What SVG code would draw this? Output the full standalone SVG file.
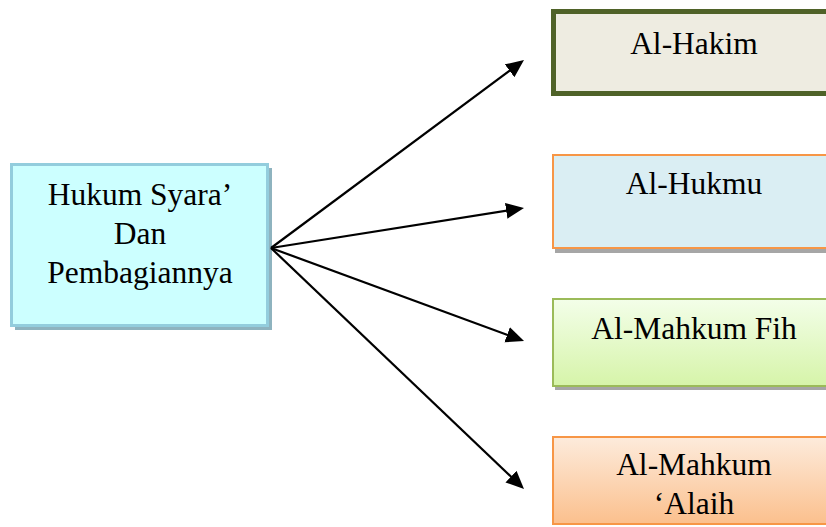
<svg xmlns="http://www.w3.org/2000/svg" width="826" height="527" viewBox="0 0 826 527">
<defs>
<style>
text{font-family:"Liberation Serif","Times New Roman",serif;font-size:31.5px;fill:#000;text-anchor:middle}
.conn line{stroke:#000;stroke-width:2.2;fill:none}
.shadow{fill:#A6A6A6}
</style>
<linearGradient id="gGreen" x1="0" y1="0" x2="0" y2="1">
<stop offset="0" stop-color="#F3FEE9"/>
<stop offset="1" stop-color="#D6F4A9"/>
</linearGradient>
<linearGradient id="gOrange" x1="0" y1="0" x2="0" y2="1">
<stop offset="0" stop-color="#FDEBDC"/>
<stop offset="1" stop-color="#FBC08D"/>
</linearGradient>
<marker id="arr" markerUnits="userSpaceOnUse" markerWidth="19" markerHeight="17" refX="9" refY="8" orient="auto" viewBox="0 0 19 17">
<path d="M0,0 L18,8 L0,16 z" fill="#000"/>
</marker>
</defs>
<rect width="826" height="527" fill="#fff"/>
<g id="node-hukum">
<rect x="15" y="168" width="257" height="162" fill="#8EB3BF"/>
<rect x="11.5" y="164.5" width="256" height="161" fill="#CCFFFF" stroke="#93CDDD" stroke-width="3"/>
<text x="140" y="205">Hukum Syara’</text>
<text x="140" y="244">Dan</text>
<text x="140" y="283">Pembagiannya</text>
</g>
<g id="node-hakim">
<rect x="553.5" y="11.5" width="290" height="82" fill="#EEECE1" stroke="#4F6228" stroke-width="5"/>
<text x="694" y="54">Al-Hakim</text>
</g>
<g id="node-hukmu">
<rect x="555" y="157" width="290" height="96" class="shadow"/>
<rect x="553" y="155" width="290" height="93" fill="#DAEEF3" stroke="#F79646" stroke-width="2"/>
<text x="694" y="194">Al-Hukmu</text>
</g>
<g id="node-fih">
<rect x="555" y="301" width="290" height="89" class="shadow"/>
<rect x="553" y="299" width="290" height="87" fill="url(#gGreen)" stroke="#9BBB59" stroke-width="2"/>
<text x="694" y="339">Al-Mahkum Fih</text>
</g>
<g id="node-alaih">
<rect x="553" y="437" width="290" height="87" fill="url(#gOrange)" stroke="#F79646" stroke-width="2"/>
<text x="694" y="475">Al-Mahkum</text>
<text x="694" y="514">‘Alaih</text>
</g>
<g class="conn" id="connectors">
<line x1="271" y1="248" x2="516.8" y2="65.4" marker-end="url(#arr)"/>
<line x1="271" y1="248" x2="515.1" y2="209.4" marker-end="url(#arr)"/>
<line x1="271" y1="248" x2="515.6" y2="337.9" marker-end="url(#arr)"/>
<line x1="271" y1="248" x2="517.5" y2="482.8" marker-end="url(#arr)"/>
</g>
</svg>
